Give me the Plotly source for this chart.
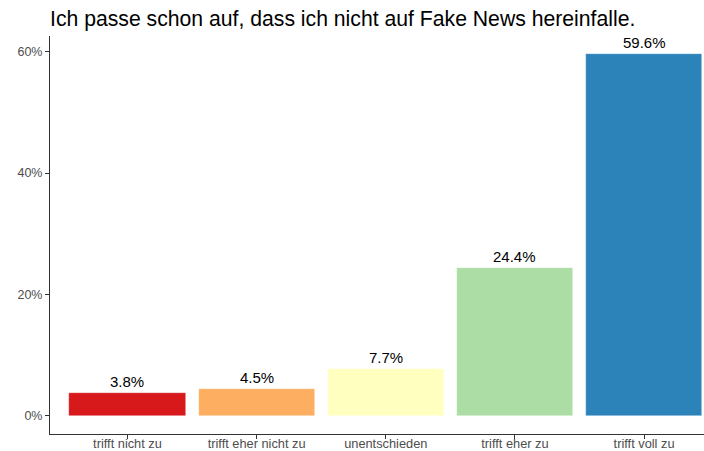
import plotly.graph_objects as go

categories = ["trifft nicht zu", "trifft eher nicht zu", "unentschieden",
              "trifft eher zu", "trifft voll zu"]
shares = [0.038, 0.045, 0.077, 0.244, 0.596]
bar_colors = ["#d7191c", "#fdae61", "#ffffbf", "#abdda4", "#2b83ba"]
y_ticks = [0, 0.2, 0.4, 0.6]
y_tick_text = ["0%", "20%", "40%", "60%"]
title_text = "Ich passe schon auf, dass ich nicht auf Fake News hereinfalle."

x_idx = list(range(len(categories)))

fig = go.Figure()
fig.add_trace(go.Bar(
    x=x_idx, y=shares, width=0.9,
    marker=dict(color=bar_colors, line=dict(color="rgba(255,255,255,0.6)", width=0.6)),
    hoverinfo="skip",
))

for xi, v in zip(x_idx, shares):
    fig.add_annotation(
        x=xi, y=v, text=f"{v*100:.1f}%", showarrow=False,
        yanchor="bottom", yshift=1,
        font=dict(family="Liberation Sans, Arial, sans-serif", size=15, color="black"),
    )

ymax = max(shares)
pad = 0.05 * ymax

fig.update_layout(
    width=704, height=451,
    margin=dict(l=50, r=0, t=36, b=17),
    paper_bgcolor="white", plot_bgcolor="white",
    showlegend=False,
    bargap=0,
    font=dict(family="Liberation Sans, Arial, sans-serif"),
    title=dict(
        text=title_text, x=0, xref="paper", xanchor="left",
        y=1 - 19 / 451, yref="container", yanchor="middle",
        font=dict(size=21.2, color="black"),
    ),
    xaxis=dict(
        range=[-0.6, 4.464], tickvals=x_idx, ticktext=categories,
        showline=True, linecolor="#333333", linewidth=1,
        ticks="outside", ticklen=4, tickcolor="#333333",
        ticklabelstandoff=-6,
        tickfont=dict(size=12.8, color="#4d4d4d"),
        showgrid=False, zeroline=False, fixedrange=True, automargin=False,
    ),
    yaxis=dict(
        range=[-pad, ymax + pad], tickvals=y_ticks, ticktext=y_tick_text,
        showline=True, linecolor="#333333", linewidth=1,
        ticks="outside", ticklen=4, tickcolor="#333333",
        tickfont=dict(size=12.5, color="#4d4d4d"),
        showgrid=False, zeroline=False, fixedrange=True, automargin=False,
    ),
)

fig.write_html("out.html")
